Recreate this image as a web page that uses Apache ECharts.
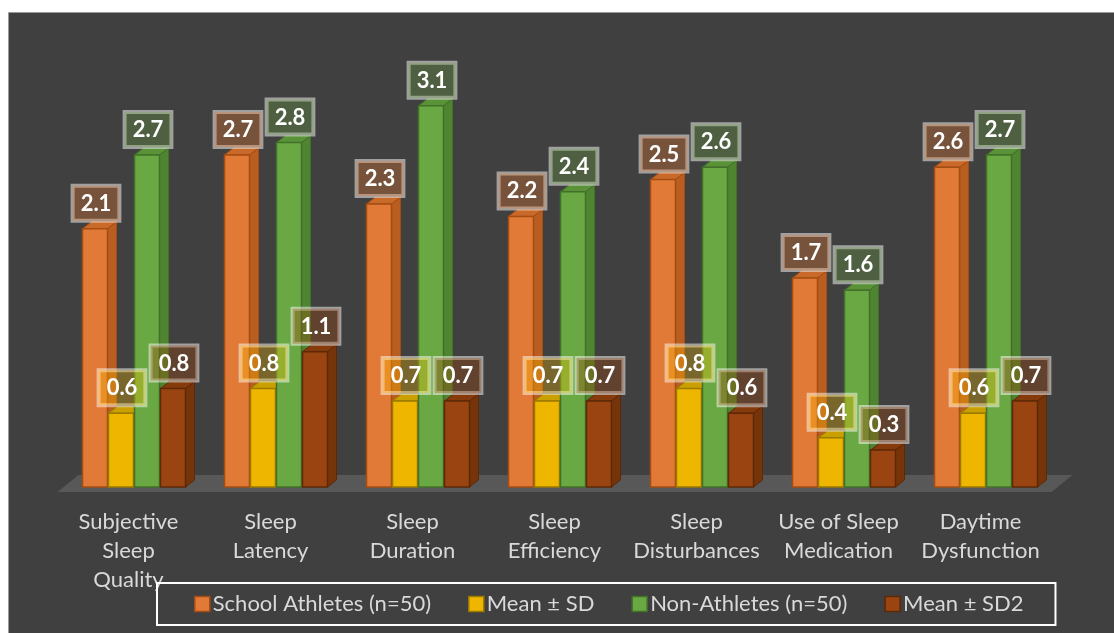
<!DOCTYPE html>
<html>
<head>
<meta charset="utf-8">
<script src="https://cdn.jsdelivr.net/npm/echarts@6/dist/echarts.min.js"></script>
<style>
  html, body { margin: 0; padding: 0; background: #ffffff; }
  #chart { width: 1114px; height: 633px; }
</style>
</head>
<body>
<div id="chart"></div>
<script>
// 数据：类别与四组数值
const categories = [
  'Subjective\nSleep\nQuality',
  'Sleep\nLatency',
  'Sleep\nDuration',
  'Sleep\nEfficiency',
  'Sleep\nDisturbances',
  'Use of Sleep\nMedication',
  'Daytime\nDysfunction'
]
const athletes = [2.1, 2.7, 2.3, 2.2, 2.5, 1.7, 2.6]
const athletesSD = [0.6, 0.8, 0.7, 0.7, 0.8, 0.4, 0.6]
const nonAthletes = [2.7, 2.8, 3.1, 2.4, 2.6, 1.6, 2.7]
const nonAthletesSD = [0.8, 1.1, 0.7, 0.7, 0.6, 0.3, 0.7]
const seriesNames = ['School Athletes (n=50)', 'Mean ± SD', 'Non-Athletes (n=50)', 'Mean ± SD2']

// 外观
const FONT = 'Lato'
const BAR_W = 25
const DX = 9
const DY = 7
const OFFSETS = [-46, -20, 6, 32]
const STYLES = [
  { front: '#e07a36', side: '#b95d20', top: '#c96a2a', edge: '#a44c12', label: 'rgba(237,125,49,0.32)', legend: '#e07a36', legendEdge: '#a44c12' },
  { front: '#efb600', side: '#c09000', top: '#c9a000', edge: '#9a7a00', label: 'rgba(255,192,0,0.30)', legend: '#efb600', legendEdge: '#9a7a00' },
  { front: '#6aa843', side: '#4f8530', top: '#5a9238', edge: '#42702a', label: 'rgba(112,173,71,0.30)', legend: '#6aa843', legendEdge: '#42702a' },
  { front: '#9a4511', side: '#76340a', top: '#853b0c', edge: '#5e2806', label: 'rgba(158,72,14,0.35)', legend: '#9a4511', legendEdge: '#5e2806' }
]

function makeBarRenderer(k) {
  const s = STYLES[k]
  return function (params, api) {
    const cat = api.value(0)
    const val = api.value(1)
    const base = api.coord([cat, 0])
    const top = api.coord([cat, val])
    const x0 = base[0] + OFFSETS[k]
    const x1 = x0 + BAR_W
    const y0 = base[1]
    const y1 = top[1]
    return {
      type: 'group',
      children: [
        {
          type: 'polygon',
          shape: { points: [[x1, y1], [x1 + DX, y1 - DY], [x1 + DX, y0 - DY], [x1, y0]] },
          style: { fill: s.side, stroke: s.edge, lineWidth: 1 }
        },
        {
          type: 'polygon',
          shape: { points: [[x0, y1], [x0 + DX, y1 - DY], [x1 + DX, y1 - DY], [x1, y1]] },
          style: { fill: s.top, stroke: s.edge, lineWidth: 1 }
        },
        {
          type: 'rect',
          shape: { x: x0, y: y1, width: BAR_W, height: y0 - y1 },
          style: { fill: s.front, stroke: s.edge, lineWidth: 1.5 }
        },
        {
          type: 'text',
          z2: 100,
          x: x0 + BAR_W / 2 + 1,
          y: y1 - DY - 1,
          style: {
            text: val.toFixed(1),
            fill: '#ffffff',
            font: 'bold 22px ' + FONT,
            align: 'center',
            verticalAlign: 'bottom',
            backgroundColor: s.label,
            borderColor: 'rgba(255,255,255,0.5)',
            borderWidth: 2,
            padding: [7, 8, 6, 8]
          }
        }
      ]
    }
  }
}

function renderFloor(params, api) {
  const cs = params.coordSys
  const yb = cs.y + cs.height
  const xl = cs.x
  const xr = cs.x + cs.width
  return {
    type: 'polygon',
    silent: true,
    shape: { points: [[xl, yb + 5], [xr, yb + 5], [xr + 21, yb - 12], [xl + 21, yb - 12]] },
    style: { fill: '#585858' }
  }
}

const valueSets = [athletes, athletesSD, nonAthletes, nonAthletesSD]

const chart = echarts.init(document.getElementById('chart'), null, { renderer: 'canvas' })
chart.setOption({
  backgroundColor: '#ffffff',
  animation: false,
  graphic: [{
    type: 'rect',
    z: -10,
    silent: true,
    shape: { x: 8.5, y: 12.5, width: 1110, height: 625 },
    style: { fill: '#404040', stroke: '#9a9a9a', lineWidth: 1 }
  }],
  grid: { left: 57.5, right: 62.5, top: 56.5, bottom: 146 },
  xAxis: {
    type: 'category',
    data: categories,
    axisLine: { show: false },
    axisTick: { show: false },
    axisLabel: {
      color: '#d9d9d9',
      fontFamily: FONT,
      fontSize: 22,
      lineHeight: 29,
      margin: 20,
      interval: 0
    }
  },
  yAxis: { type: 'value', min: 0, max: 3.5, show: false, splitLine: { show: false } },
  legend: {
    data: seriesNames.map((n, i) => ({
      name: n,
      itemStyle: { color: STYLES[i].legend, borderColor: STYLES[i].legendEdge, borderWidth: 1.5 }
    })),
    icon: 'rect',
    left: 157,
    top: 583,
    itemWidth: 15,
    itemHeight: 15,
    itemGap: 37,
    padding: [10, 32, 10, 37],
    borderColor: '#ffffff',
    borderWidth: 2,
    textStyle: { color: '#d9d9d9', fontFamily: FONT, fontSize: 22, padding: [0, 0, 0, -2] }
  },
  series: [
    {
      type: 'custom',
      name: 'floor',
      silent: true,
      z: 1,
      renderItem: renderFloor,
      data: [[0, 0]]
    }
  ].concat(valueSets.map((vals, k) => ({
    type: 'custom',
    name: seriesNames[k],
    z: 2,
    itemStyle: { color: STYLES[k].legend },
    renderItem: makeBarRenderer(k),
    data: vals.map((v, i) => [i, v])
  })))
})
window.addEventListener('resize', () => chart.resize())
</script>
</body>
</html>
